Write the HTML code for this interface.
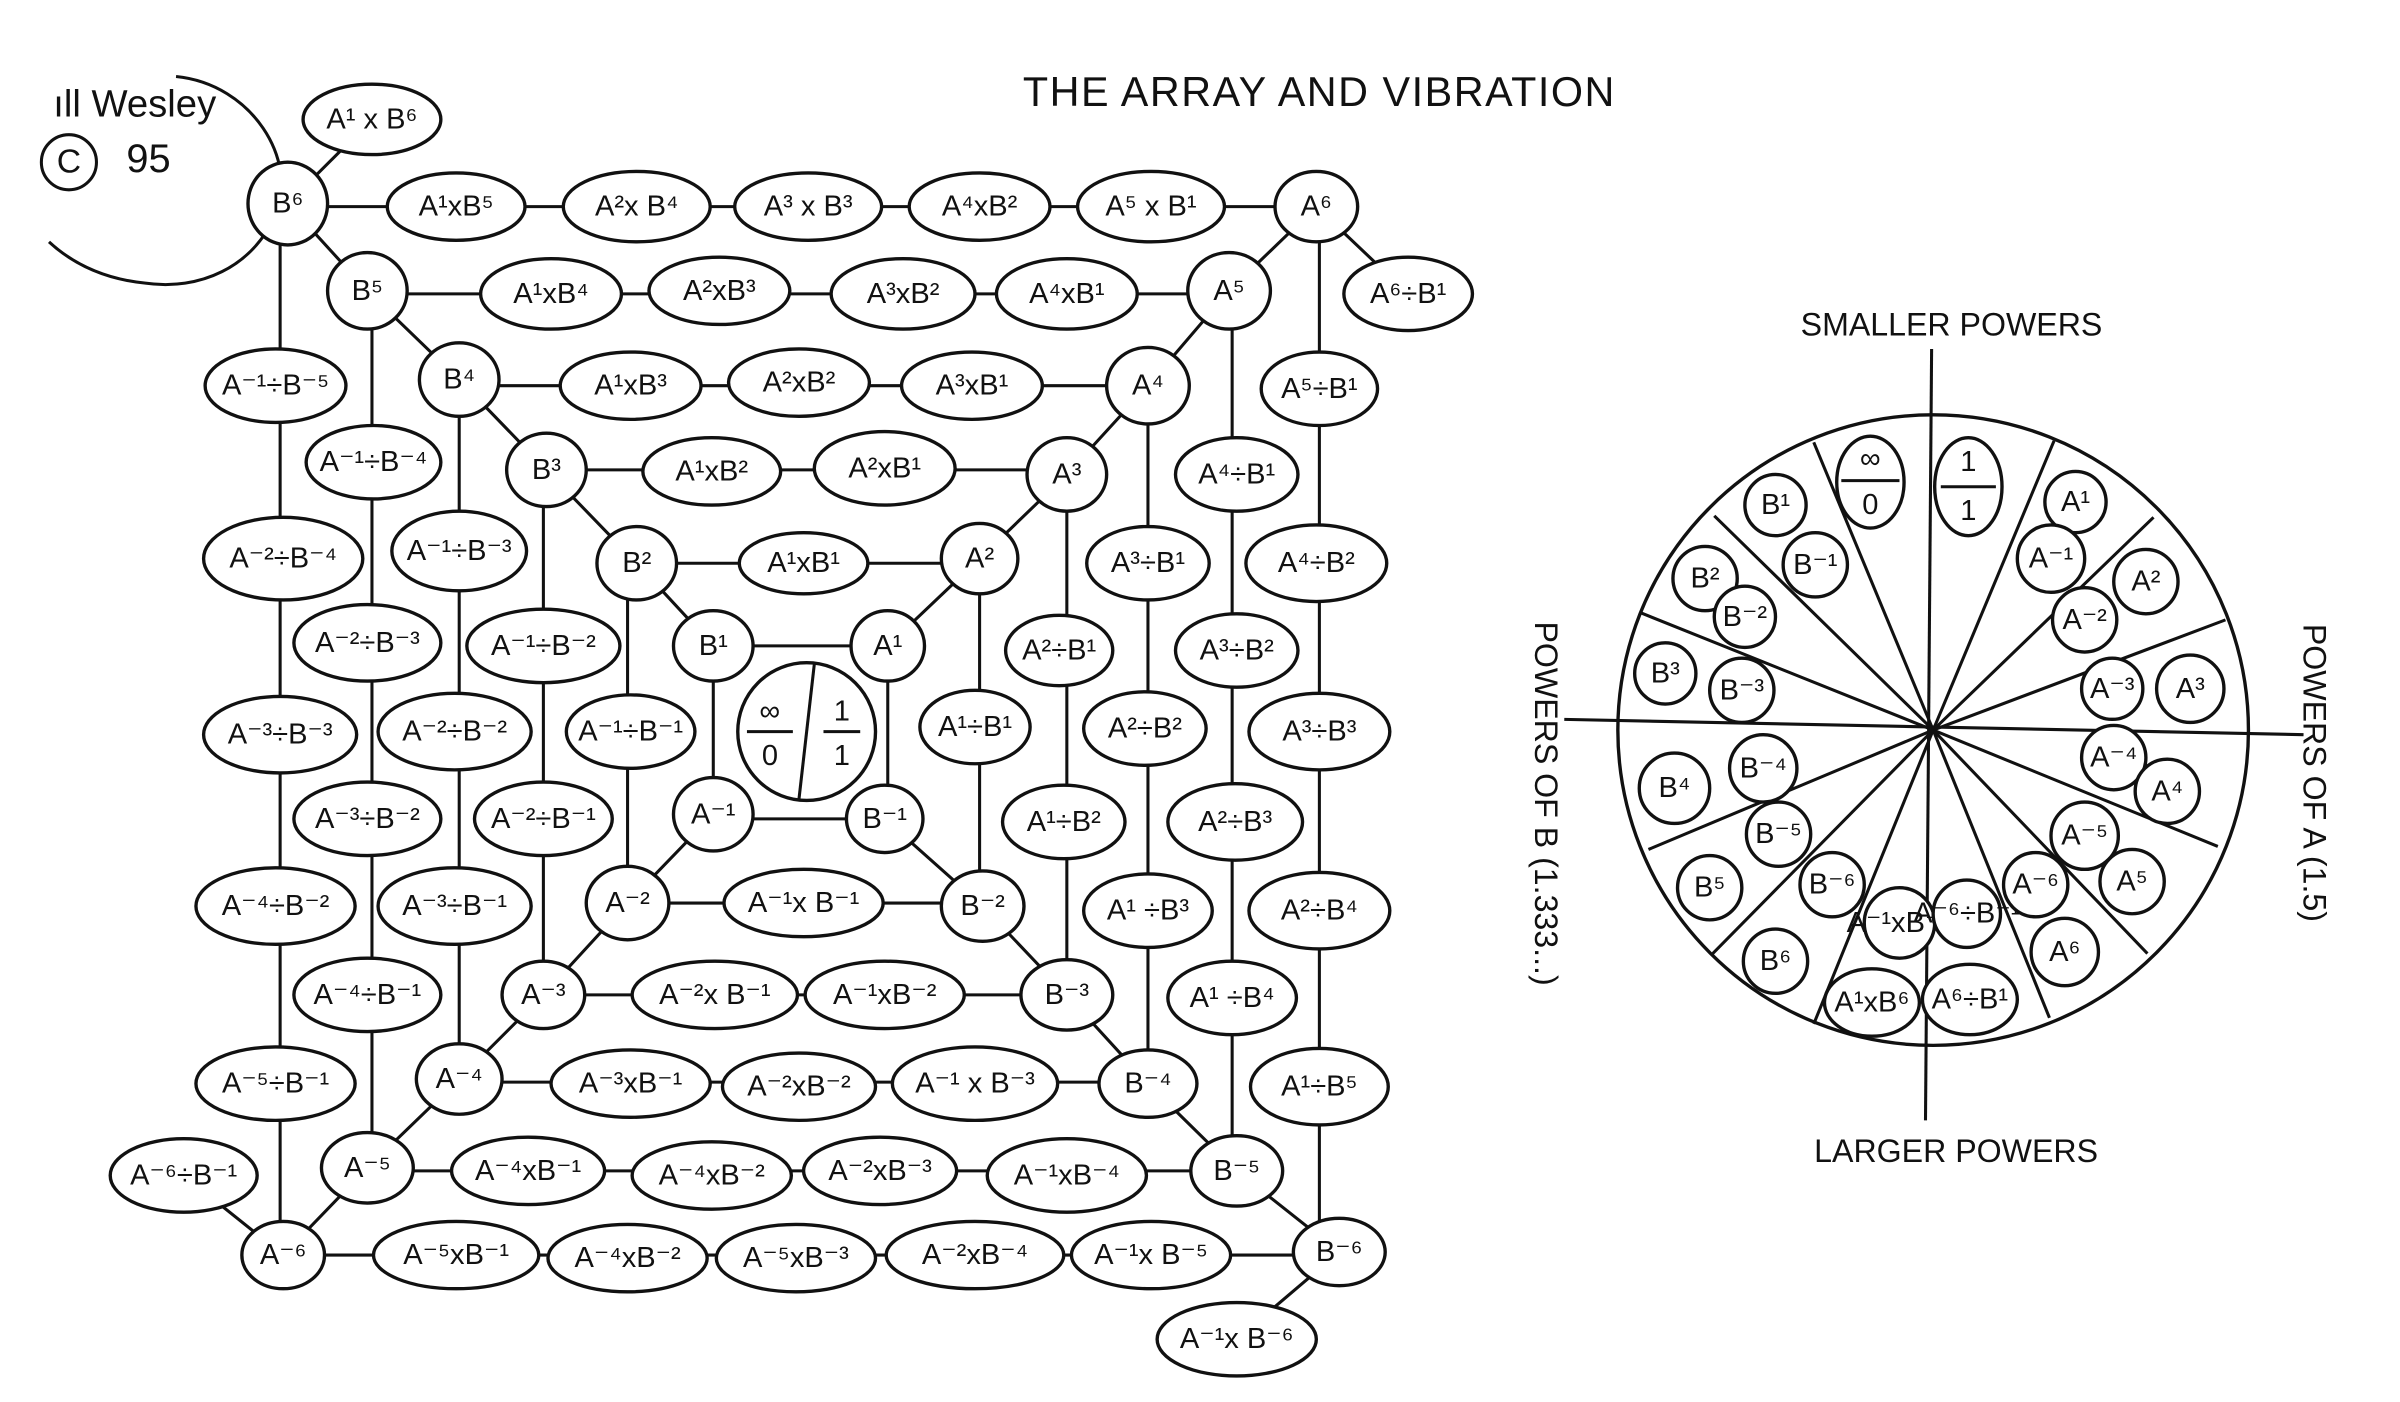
<!DOCTYPE html>
<html><head><meta charset="utf-8"><style>
html,body{margin:0;padding:0;background:#fff;}
svg{display:block}
text{font-family:"Liberation Sans","DejaVu Sans",sans-serif;fill:#111;text-anchor:middle;dominant-baseline:central}
.n text{font-size:19px}
ellipse,circle{fill:#fff;stroke:#111;stroke-width:2.2}
line,path{stroke:#111;stroke-width:2;fill:none}
</style></head><body>
<svg width="2400" height="1402" viewBox="0 0 1568 916" xmlns="http://www.w3.org/2000/svg">
<rect width="1568" height="916" fill="#fff"/>
<!-- signature -->
<path d="M115,50 C165,55 195,105 180,140 C165,175 130,190 95,185 C65,182 45,170 32,158" />
<text x="88" y="68" font-size="25">ıll Wesley</text>
<circle cx="45" cy="106" r="18" style="fill:none;stroke-width:2"/>
<text x="45" y="106" font-size="22">C</text>
<text x="97" y="104" font-size="26">95</text>
<text x="862" y="60" font-size="27" letter-spacing="1">THE ARRAY AND VIBRATION</text>

<!-- connector lines -->
<g>
<line x1="188" y1="135" x2="860" y2="135"/><line x1="240" y1="192" x2="803" y2="192"/>
<line x1="300" y1="252" x2="750" y2="252"/><line x1="357" y1="307" x2="697" y2="307"/>
<line x1="416" y1="368" x2="640" y2="368"/><line x1="466" y1="422" x2="580" y2="422"/>
<line x1="466" y1="535" x2="578" y2="535"/><line x1="410" y1="590" x2="642" y2="590"/>
<line x1="355" y1="650" x2="697" y2="650"/><line x1="300" y1="707" x2="750" y2="707"/>
<line x1="240" y1="765" x2="808" y2="765"/><line x1="185" y1="820" x2="875" y2="820"/>
<path d="M243,78 L188,133 L240,190 L300,248 L357,307 L416,368 L466,422"/>
<path d="M920,192 L860,135 L803,190 L750,252 L697,310 L640,365 L580,422"/>
<path d="M466,532 L410,590 L355,650 L300,705 L240,763 L185,820 L120,768"/>
<path d="M578,535 L642,592 L697,650 L750,708 L808,765 L875,818 L808,875"/>
<line x1="183" y1="150" x2="183" y2="805"/><line x1="862" y1="150" x2="862" y2="800"/>
<line x1="243" y1="205" x2="243" y2="760"/><line x1="805" y1="205" x2="805" y2="760"/>
<line x1="300" y1="262" x2="300" y2="700"/><line x1="750" y1="265" x2="750" y2="700"/>
<line x1="355" y1="320" x2="355" y2="645"/><line x1="697" y1="325" x2="697" y2="640"/>
<line x1="410" y1="380" x2="410" y2="585"/><line x1="640" y1="380" x2="640" y2="585"/>
<line x1="466" y1="435" x2="466" y2="530"/><line x1="580" y1="435" x2="580" y2="530"/>
</g>

<g class="n">
<ellipse cx="243" cy="78" rx="45" ry="23"/><text x="243" y="78">A¹ x B⁶</text>
<ellipse cx="188" cy="133" rx="26" ry="27"/><text x="188" y="133">B⁶</text>
<ellipse cx="298" cy="135" rx="45" ry="22"/><text x="298" y="135">A¹xB⁵</text>
<ellipse cx="416" cy="135" rx="48" ry="23"/><text x="416" y="135">A²x B⁴</text>
<ellipse cx="528" cy="135" rx="48" ry="22"/><text x="528" y="135">A³ x B³</text>
<ellipse cx="640" cy="135" rx="46" ry="22"/><text x="640" y="135">A⁴xB²</text>
<ellipse cx="752" cy="135" rx="48" ry="23"/><text x="752" y="135">A⁵ x B¹</text>
<ellipse cx="860" cy="135" rx="27" ry="23"/><text x="860" y="135">A⁶</text>
<ellipse cx="920" cy="192" rx="42" ry="24"/><text x="920" y="192">A⁶÷B¹</text>

<ellipse cx="240" cy="190" rx="26" ry="25"/><text x="240" y="190">B⁵</text>
<ellipse cx="360" cy="192" rx="46" ry="23"/><text x="360" y="192">A¹xB⁴</text>
<ellipse cx="470" cy="190" rx="46" ry="22"/><text x="470" y="190">A²xB³</text>
<ellipse cx="590" cy="192" rx="47" ry="23"/><text x="590" y="192">A³xB²</text>
<ellipse cx="697" cy="192" rx="46" ry="23"/><text x="697" y="192">A⁴xB¹</text>
<ellipse cx="803" cy="190" rx="27" ry="25"/><text x="803" y="190">A⁵</text>

<ellipse cx="180" cy="252" rx="46" ry="24"/><text x="180" y="252">A⁻¹÷B⁻⁵</text>
<ellipse cx="300" cy="248" rx="26" ry="24"/><text x="300" y="248">B⁴</text>
<ellipse cx="412" cy="252" rx="46" ry="22"/><text x="412" y="252">A¹xB³</text>
<ellipse cx="522" cy="250" rx="46" ry="22"/><text x="522" y="250">A²xB²</text>
<ellipse cx="635" cy="252" rx="46" ry="22"/><text x="635" y="252">A³xB¹</text>
<ellipse cx="750" cy="252" rx="27" ry="25"/><text x="750" y="252">A⁴</text>
<ellipse cx="862" cy="254" rx="38" ry="24"/><text x="862" y="254">A⁵÷B¹</text>

<ellipse cx="244" cy="302" rx="44" ry="24"/><text x="244" y="302">A⁻¹÷B⁻⁴</text>
<ellipse cx="357" cy="307" rx="26" ry="24"/><text x="357" y="307">B³</text>
<ellipse cx="465" cy="308" rx="45" ry="22"/><text x="465" y="308">A¹xB²</text>
<ellipse cx="578" cy="306" rx="46" ry="24"/><text x="578" y="306">A²xB¹</text>
<ellipse cx="697" cy="310" rx="26" ry="24"/><text x="697" y="310">A³</text>
<ellipse cx="808" cy="310" rx="40" ry="24"/><text x="808" y="310">A⁴÷B¹</text>

<ellipse cx="185" cy="365" rx="52" ry="27"/><text x="185" y="365">A⁻²÷B⁻⁴</text>
<ellipse cx="300" cy="360" rx="44" ry="26"/><text x="300" y="360">A⁻¹÷B⁻³</text>
<ellipse cx="416" cy="368" rx="26" ry="24"/><text x="416" y="368">B²</text>
<ellipse cx="525" cy="368" rx="42" ry="20"/><text x="525" y="368">A¹xB¹</text>
<ellipse cx="640" cy="365" rx="25" ry="23"/><text x="640" y="365">A²</text>
<ellipse cx="750" cy="368" rx="40" ry="24"/><text x="750" y="368">A³÷B¹</text>
<ellipse cx="860" cy="368" rx="46" ry="25"/><text x="860" y="368">A⁴÷B²</text>

<ellipse cx="240" cy="420" rx="48" ry="25"/><text x="240" y="420">A⁻²÷B⁻³</text>
<ellipse cx="355" cy="422" rx="50" ry="24"/><text x="355" y="422">A⁻¹÷B⁻²</text>
<ellipse cx="466" cy="422" rx="26" ry="23"/><text x="466" y="422">B¹</text>
<ellipse cx="580" cy="422" rx="24" ry="23"/><text x="580" y="422">A¹</text>
<ellipse cx="692" cy="425" rx="35" ry="23"/><text x="692" y="425">A²÷B¹</text>
<ellipse cx="808" cy="425" rx="40" ry="24"/><text x="808" y="425">A³÷B²</text>

<ellipse cx="183" cy="480" rx="50" ry="25"/><text x="183" y="480">A⁻³÷B⁻³</text>
<ellipse cx="297" cy="478" rx="50" ry="25"/><text x="297" y="478">A⁻²÷B⁻²</text>
<ellipse cx="412" cy="478" rx="42" ry="24"/><text x="412" y="478">A⁻¹÷B⁻¹</text>
<ellipse cx="637" cy="475" rx="36" ry="24"/><text x="637" y="475">A¹÷B¹</text>
<ellipse cx="748" cy="476" rx="40" ry="24"/><text x="748" y="476">A²÷B²</text>
<ellipse cx="862" cy="478" rx="46" ry="25"/><text x="862" y="478">A³÷B³</text>

<circle cx="527" cy="478" r="45"/>
<line x1="532" y1="434" x2="522" y2="522"/>
<text x="503" y="465" font-size="24">∞</text><line x1="488" y1="478" x2="518" y2="478"/><text x="503" y="494">0</text>
<text x="550" y="465">1</text><line x1="538" y1="478" x2="562" y2="478"/><text x="550" y="494">1</text>

<ellipse cx="240" cy="535" rx="48" ry="24"/><text x="240" y="535">A⁻³÷B⁻²</text>
<ellipse cx="355" cy="535" rx="45" ry="24"/><text x="355" y="535">A⁻²÷B⁻¹</text>
<ellipse cx="466" cy="532" rx="26" ry="24"/><text x="466" y="532">A⁻¹</text>
<ellipse cx="578" cy="535" rx="25" ry="22"/><text x="578" y="535">B⁻¹</text>
<ellipse cx="695" cy="537" rx="40" ry="24"/><text x="695" y="537">A¹÷B²</text>
<ellipse cx="807" cy="537" rx="44" ry="25"/><text x="807" y="537">A²÷B³</text>

<ellipse cx="180" cy="592" rx="52" ry="25"/><text x="180" y="592">A⁻⁴÷B⁻²</text>
<ellipse cx="297" cy="592" rx="50" ry="25"/><text x="297" y="592">A⁻³÷B⁻¹</text>
<ellipse cx="410" cy="590" rx="27" ry="24"/><text x="410" y="590">A⁻²</text>
<ellipse cx="525" cy="590" rx="52" ry="22"/><text x="525" y="590">A⁻¹x B⁻¹</text>
<ellipse cx="642" cy="592" rx="27" ry="23"/><text x="642" y="592">B⁻²</text>
<ellipse cx="750" cy="595" rx="42" ry="24"/><text x="750" y="595">A¹ ÷B³</text>
<ellipse cx="862" cy="595" rx="46" ry="25"/><text x="862" y="595">A²÷B⁴</text>

<ellipse cx="240" cy="650" rx="48" ry="24"/><text x="240" y="650">A⁻⁴÷B⁻¹</text>
<ellipse cx="355" cy="650" rx="27" ry="22"/><text x="355" y="650">A⁻³</text>
<ellipse cx="467" cy="650" rx="54" ry="22"/><text x="467" y="650">A⁻²x B⁻¹</text>
<ellipse cx="578" cy="650" rx="52" ry="22"/><text x="578" y="650">A⁻¹xB⁻²</text>
<ellipse cx="697" cy="650" rx="30" ry="23"/><text x="697" y="650">B⁻³</text>
<ellipse cx="805" cy="652" rx="42" ry="24"/><text x="805" y="652">A¹ ÷B⁴</text>

<ellipse cx="180" cy="708" rx="52" ry="24"/><text x="180" y="708">A⁻⁵÷B⁻¹</text>
<ellipse cx="300" cy="705" rx="28" ry="23"/><text x="300" y="705">A⁻⁴</text>
<ellipse cx="412" cy="708" rx="52" ry="22"/><text x="412" y="708">A⁻³xB⁻¹</text>
<ellipse cx="522" cy="710" rx="50" ry="22"/><text x="522" y="710">A⁻²xB⁻²</text>
<ellipse cx="637" cy="708" rx="54" ry="24"/><text x="637" y="708">A⁻¹ x B⁻³</text>
<ellipse cx="750" cy="708" rx="32" ry="22"/><text x="750" y="708">B⁻⁴</text>
<ellipse cx="862" cy="710" rx="45" ry="25"/><text x="862" y="710">A¹÷B⁵</text>

<ellipse cx="120" cy="768" rx="48" ry="24"/><text x="120" y="768">A⁻⁶÷B⁻¹</text>
<ellipse cx="240" cy="763" rx="30" ry="23"/><text x="240" y="763">A⁻⁵</text>
<ellipse cx="345" cy="765" rx="50" ry="22"/><text x="345" y="765">A⁻⁴xB⁻¹</text>
<ellipse cx="465" cy="768" rx="52" ry="22"/><text x="465" y="768">A⁻⁴xB⁻²</text>
<ellipse cx="575" cy="765" rx="50" ry="22"/><text x="575" y="765">A⁻²xB⁻³</text>
<ellipse cx="697" cy="768" rx="52" ry="24"/><text x="697" y="768">A⁻¹xB⁻⁴</text>
<ellipse cx="808" cy="765" rx="30" ry="23"/><text x="808" y="765">B⁻⁵</text>

<ellipse cx="185" cy="820" rx="27" ry="22"/><text x="185" y="820">A⁻⁶</text>
<ellipse cx="298" cy="820" rx="54" ry="22"/><text x="298" y="820">A⁻⁵xB⁻¹</text>
<ellipse cx="410" cy="822" rx="52" ry="22"/><text x="410" y="822">A⁻⁴xB⁻²</text>
<ellipse cx="520" cy="822" rx="52" ry="22"/><text x="520" y="822">A⁻⁵xB⁻³</text>
<ellipse cx="637" cy="820" rx="58" ry="22"/><text x="637" y="820">A⁻²xB⁻⁴</text>
<ellipse cx="752" cy="820" rx="52" ry="22"/><text x="752" y="820">A⁻¹x B⁻⁵</text>
<ellipse cx="875" cy="818" rx="30" ry="22"/><text x="875" y="818">B⁻⁶</text>
<ellipse cx="808" cy="875" rx="52" ry="24"/><text x="808" y="875">A⁻¹x B⁻⁶</text>
</g>

<!-- wheel -->
<line x1="1022" y1="470" x2="1505" y2="480"/>
<line x1="1262" y1="228" x2="1258" y2="732"/>
<circle cx="1263" cy="477" r="206" style="fill:none"/>
<g>
<line x1="1263" y1="477" x2="1185" y2="289"/><line x1="1263" y1="477" x2="1120" y2="337"/>
<line x1="1263" y1="477" x2="1071" y2="400"/><line x1="1263" y1="477" x2="1342" y2="288"/>
<line x1="1263" y1="477" x2="1407" y2="338"/><line x1="1263" y1="477" x2="1454" y2="405"/>
<line x1="1263" y1="477" x2="1449" y2="553"/><line x1="1263" y1="477" x2="1403" y2="623"/>
<line x1="1263" y1="477" x2="1339" y2="665"/><line x1="1263" y1="477" x2="1185" y2="669"/>
<line x1="1263" y1="477" x2="1119" y2="623"/><line x1="1263" y1="477" x2="1077" y2="555"/>
</g>
<text x="1275" y="212" font-size="21">SMALLER POWERS</text>
<text x="1278" y="752" font-size="21">LARGER POWERS</text>
<text transform="translate(1512,505) rotate(90)" font-size="21">POWERS OF A (1.5)</text>
<text transform="translate(1010,525) rotate(90)" font-size="21">POWERS OF B (1.333...)</text>
<g class="n">
<ellipse cx="1222" cy="315" rx="22" ry="30"/><text x="1222" y="300" font-size="24">∞</text><line x1="1203" y1="314" x2="1241" y2="314"/><text x="1222" y="330">0</text>
<ellipse cx="1286" cy="318" rx="22" ry="32"/><text x="1286" y="302">1</text><line x1="1268" y1="318" x2="1304" y2="318"/><text x="1286" y="334">1</text>
<circle cx="1160" cy="330" r="20"/><text x="1160" y="330">B¹</text>
<circle cx="1186" cy="369" r="21"/><text x="1186" y="369">B⁻¹</text>
<circle cx="1356" cy="328" r="20"/><text x="1356" y="328">A¹</text>
<circle cx="1340" cy="365" r="22"/><text x="1340" y="365">A⁻¹</text>
<circle cx="1114" cy="378" r="21"/><text x="1114" y="378">B²</text>
<circle cx="1140" cy="403" r="20"/><text x="1140" y="403">B⁻²</text>
<circle cx="1402" cy="380" r="21"/><text x="1402" y="380">A²</text>
<circle cx="1362" cy="405" r="21"/><text x="1362" y="405">A⁻²</text>
<circle cx="1088" cy="440" r="20"/><text x="1088" y="440">B³</text>
<circle cx="1138" cy="451" r="21"/><text x="1138" y="451">B⁻³</text>
<circle cx="1380" cy="450" r="20"/><text x="1380" y="450">A⁻³</text>
<circle cx="1431" cy="450" r="22"/><text x="1431" y="450">A³</text>
<circle cx="1094" cy="515" r="23"/><text x="1094" y="515">B⁴</text>
<circle cx="1152" cy="502" r="22"/><text x="1152" y="502">B⁻⁴</text>
<circle cx="1381" cy="495" r="21"/><text x="1381" y="495">A⁻⁴</text>
<circle cx="1416" cy="517" r="21"/><text x="1416" y="517">A⁴</text>
<circle cx="1162" cy="545" r="21"/><text x="1162" y="545">B⁻⁵</text>
<circle cx="1362" cy="546" r="22"/><text x="1362" y="546">A⁻⁵</text>
<circle cx="1117" cy="580" r="21"/><text x="1117" y="580">B⁵</text>
<circle cx="1197" cy="578" r="21"/><text x="1197" y="578">B⁻⁶</text>
<circle cx="1241" cy="603" r="23"/><text x="1241" y="603" font-size="15">A⁻¹xB⁻⁶</text>
<circle cx="1285" cy="597" r="22"/><text x="1285" y="597" font-size="15">A⁻⁶÷B⁻¹</text>
<circle cx="1330" cy="578" r="21"/><text x="1330" y="578">A⁻⁶</text>
<circle cx="1393" cy="576" r="21"/><text x="1393" y="576">A⁵</text>
<circle cx="1160" cy="628" r="21"/><text x="1160" y="628">B⁶</text>
<circle cx="1349" cy="622" r="22"/><text x="1349" y="622">A⁶</text>
<ellipse cx="1223" cy="655" rx="31" ry="22"/><text x="1223" y="655" font-size="17">A¹xB⁶</text>
<ellipse cx="1287" cy="653" rx="31" ry="23"/><text x="1287" y="653" font-size="17">A⁶÷B¹</text>
</g>
</svg>
</body></html>
